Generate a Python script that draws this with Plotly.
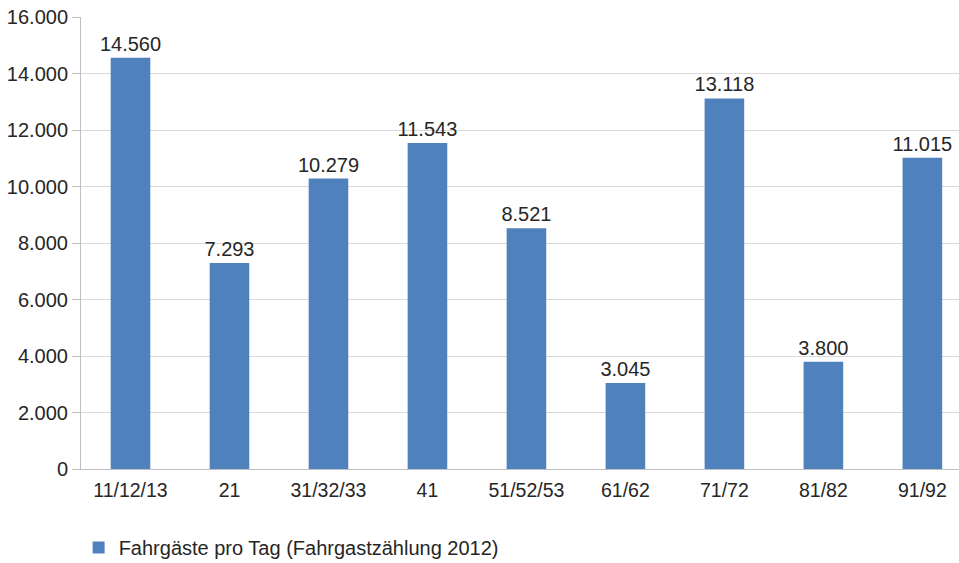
import plotly.graph_objects as go

# Linien / Linienbündel und Fahrgäste pro Tag
linien = ["11/12/13", "21", "31/32/33", "41", "51/52/53", "61/62", "71/72", "81/82", "91/92"]
fahrgaeste = [14560, 7293, 10279, 11543, 8521, 3045, 13118, 3800, 11015]
serien_name = "Fahrgäste pro Tag (Fahrgastzählung 2012)"
y_ticks = [0, 2000, 4000, 6000, 8000, 10000, 12000, 14000, 16000]

FONT = "Liberation Sans, Arial, sans-serif"
TEXT_COLOR = "#262626"
BAR_COLOR = "#4f81bd"
FS = 20

fig = go.Figure(
    go.Bar(
        x=linien,
        y=fahrgaeste,
        name=serien_name,
        marker=dict(color=BAR_COLOR, line=dict(width=0)),
        texttemplate="%{y:,d}",
        textposition="outside",
        textfont=dict(size=FS, color=TEXT_COLOR, family=FONT),
        cliponaxis=False,
        showlegend=True,
    )
)

fig.update_layout(
    width=959,
    height=563,
    margin=dict(l=81, r=0, t=17, b=94),
    paper_bgcolor="white",
    plot_bgcolor="white",
    separators=",.",
    bargap=0.6,
    font=dict(family=FONT, size=FS, color=TEXT_COLOR),
    showlegend=True,
    legend=dict(
        orientation="h",
        xref="container",
        yref="container",
        x=0.082,
        y=0.062,
        xanchor="left",
        yanchor="top",
        font=dict(size=20, color=TEXT_COLOR, family=FONT),
        itemwidth=30,
    ),
    uniformtext=dict(minsize=FS, mode="show"),
)

fig.update_xaxes(
    range=[-0.5, 8.37],
    showline=True,
    linecolor="#bfbfbf",
    linewidth=1,
    showgrid=False,
    ticks="outside",
    ticklen=4,
    tickcolor="rgba(0,0,0,0)",
    tickfont=dict(size=19.5, color=TEXT_COLOR),
)

fig.update_yaxes(
    range=[0, 16000],
    tickvals=y_ticks,
    tickformat=",d",
    showline=True,
    linecolor="#bfbfbf",
    linewidth=1,
    showgrid=True,
    gridcolor="#d9d9d9",
    gridwidth=1,
    ticks="outside",
    ticklen=8,
    tickcolor="#bfbfbf",
    tickfont=dict(size=FS, color=TEXT_COLOR),
    zeroline=False,
)

fig.write_html("out.html")
